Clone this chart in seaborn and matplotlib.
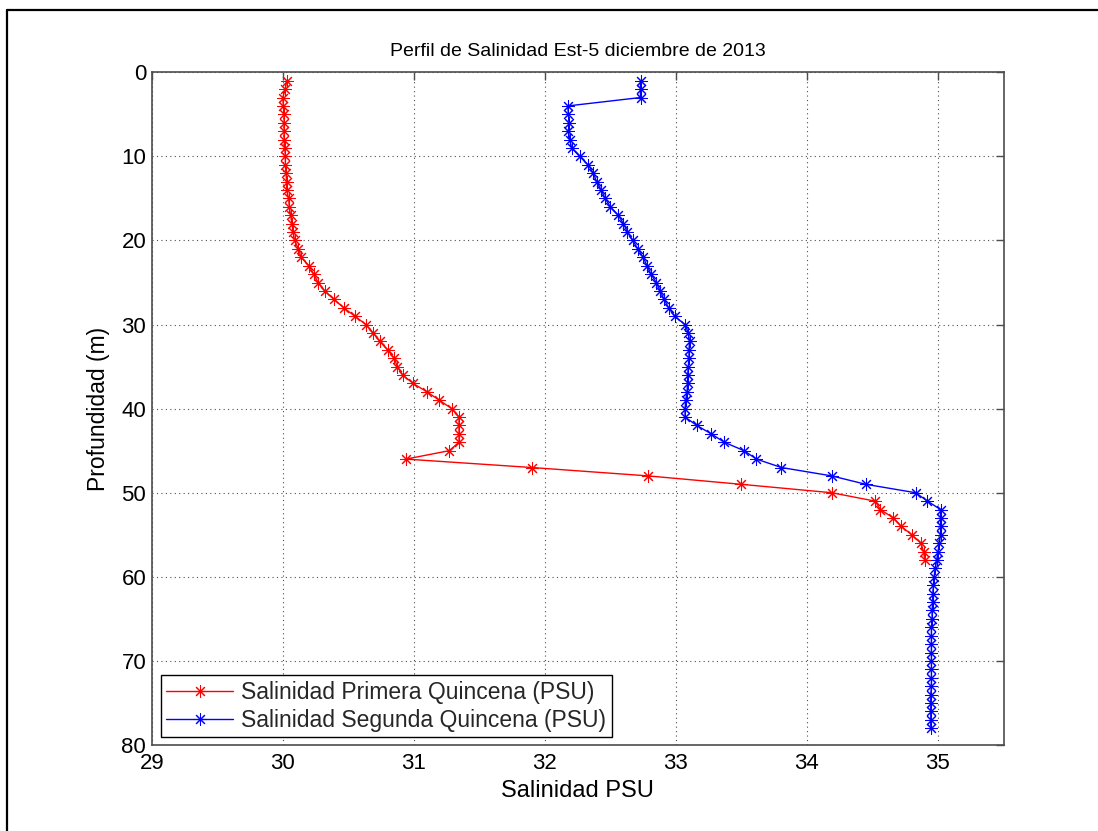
import numpy as np
import pandas as pd
import matplotlib
matplotlib.use("Agg")
import matplotlib.pyplot as plt
import seaborn as sns
from matplotlib.lines import Line2D

# ---------------- data ----------------
depth_primera = [1, 2, 3, 4, 5, 6, 7, 8, 9, 10, 11, 12, 13, 14, 15, 16, 17, 18, 19, 20,
                 21, 22, 23, 24, 25, 26, 27, 28, 29, 30, 31, 32, 33, 34, 35, 36, 37, 38, 39, 40,
                 41, 42, 43, 44, 45, 46, 47, 48, 49, 50, 51, 52, 53, 54, 55, 56, 57, 58]
sal_primera = [30.03, 30.02, 30.00, 30.005, 30.01, 30.01, 30.01, 30.01, 30.015, 30.02,
               30.02, 30.025, 30.03, 30.03, 30.045, 30.05, 30.06, 30.07, 30.08, 30.09,
               30.12, 30.14, 30.20, 30.235, 30.27, 30.32, 30.39, 30.465, 30.55, 30.635,
               30.69, 30.74, 30.80, 30.85, 30.875, 30.915, 30.995, 31.10, 31.195, 31.29,
               31.345, 31.345, 31.345, 31.345, 31.27, 30.94, 31.90, 32.79, 33.50, 34.19,
               34.52, 34.56, 34.66, 34.72, 34.80, 34.87, 34.89, 34.90]

depth_segunda = [1, 2, 3, 4, 5, 6, 7, 8, 9, 10, 11, 12, 13, 14, 15, 16, 17, 18, 19, 20,
                 21, 22, 23, 24, 25, 26, 27, 28, 29, 30, 31, 32, 33, 34, 35, 36, 37, 38, 39, 40,
                 41, 42, 43, 44, 45, 46, 47, 48, 49, 50, 51, 52, 53, 54, 55, 56, 57, 58, 59, 60,
                 61, 62, 63, 64, 65, 66, 67, 68, 69, 70, 71, 72, 73, 74, 75, 76, 77, 78]
sal_segunda = [32.73, 32.73, 32.73, 32.175, 32.18, 32.185, 32.18, 32.19, 32.205, 32.265,
               32.33, 32.37, 32.395, 32.43, 32.46, 32.50, 32.56, 32.60, 32.63, 32.67,
               32.71, 32.75, 32.78, 32.81, 32.85, 32.88, 32.91, 32.945, 32.99, 33.07,
               33.095, 33.105, 33.10, 33.10, 33.095, 33.09, 33.09, 33.085, 33.075, 33.07,
               33.07, 33.16, 33.27, 33.37, 33.52, 33.615, 33.805, 34.19, 34.45, 34.83,
               34.92, 35.02, 35.02, 35.02, 35.02, 35.01, 35.00, 34.99, 34.98, 34.97,
               34.965, 34.96, 34.96, 34.955, 34.955, 34.95, 34.95, 34.95, 34.95, 34.95,
               34.95, 34.95, 34.95, 34.945, 34.945, 34.945, 34.945, 34.945]

series_names = ["Salinidad Primera Quincena (PSU)", "Salinidad Segunda Quincena (PSU)"]
series_colors = ["#FF0000", "#0000FF"]
x_ticks = [29, 30, 31, 32, 33, 34, 35]
y_ticks = [0, 10, 20, 30, 40, 50, 60, 70, 80]

title_text = "Perfil de Salinidad Est-5 diciembre de 2013"
xlabel_text = "Salinidad PSU"
ylabel_text = "Profundidad (m)"

# ---------------- frame ----------------
df = pd.concat([
    pd.DataFrame({"sal": sal_primera, "depth": depth_primera, "serie": series_names[0]}),
    pd.DataFrame({"sal": sal_segunda, "depth": depth_segunda, "serie": series_names[1]}),
], ignore_index=True)

sns.set_theme(style="white")
plt.rcParams["font.family"] = ["Liberation Sans", "DejaVu Sans"]

fig = plt.figure(figsize=(10.98, 8.31), dpi=100)
ax = fig.add_axes([151.7 / 1098, 1 - 745 / 831, (1003.5 - 151.7) / 1098, (745 - 72.3) / 831])

star = (8, 2, 0)
sns.lineplot(data=df, x="sal", y="depth", hue="serie", palette=series_colors,
             hue_order=series_names, sort=False, estimator=None, ax=ax,
             marker=star, markersize=9, markeredgewidth=0.75, linewidth=1.0,
             legend=False)
for ln in ax.lines:
    ln.set_markeredgecolor(ln.get_color())
    ln.set_markerfacecolor(ln.get_color())

ax.set_xlim(29, 35.5)
ax.set_ylim(80, 0)
ax.set_xticks(x_ticks)
ax.set_yticks(y_ticks)
ax.set_xticklabels([str(v) for v in x_ticks])
ax.set_yticklabels([str(v) for v in y_ticks])

spine_col = "0.3"
for s in ax.spines.values():
    s.set_visible(True)
    s.set_color(spine_col)
    s.set_linewidth(1.2)

ax.tick_params(axis="both", direction="in", length=6, width=1.0, color=spine_col,
               top=True, right=True, labelsize=16, labelcolor="black")
ax.tick_params(axis="x", pad=6)
ax.tick_params(axis="y", pad=4)

ax.grid(True, linestyle=(0, (1, 3)), color="0.3", linewidth=0.8)

ax.set_xlabel(xlabel_text, fontsize=17, color="black", labelpad=4)
ax.set_ylabel(ylabel_text, fontsize=16.5, color="black", labelpad=8)
ax.set_title(title_text, fontsize=14, color="black", pad=12)

handles = [Line2D([], [], color=c, marker=star, markersize=9, markeredgewidth=0.75,
                  markeredgecolor=c, linewidth=1.0) for c in series_colors]
leg = ax.legend(handles, series_names, loc="lower left", bbox_to_anchor=(0.0106, 0.0114),
                borderaxespad=0, fontsize=16.5, frameon=True, fancybox=False,
                edgecolor="black", framealpha=1, handlelength=2.9, handletextpad=0.35,
                borderpad=0.25, labelspacing=0.2)
leg.get_frame().set_linewidth(1.0)

# outer figure frame (top and left edges visible)
fig.add_artist(Line2D([7 / 1098, 1.0], [1 - 10 / 831, 1 - 10 / 831], color="black",
                      linewidth=1.6, transform=fig.transFigure))
fig.add_artist(Line2D([7 / 1098, 7 / 1098], [0.0, 1 - 10 / 831], color="black",
                      linewidth=1.6, transform=fig.transFigure))

fig.savefig("out.png", dpi=100)
